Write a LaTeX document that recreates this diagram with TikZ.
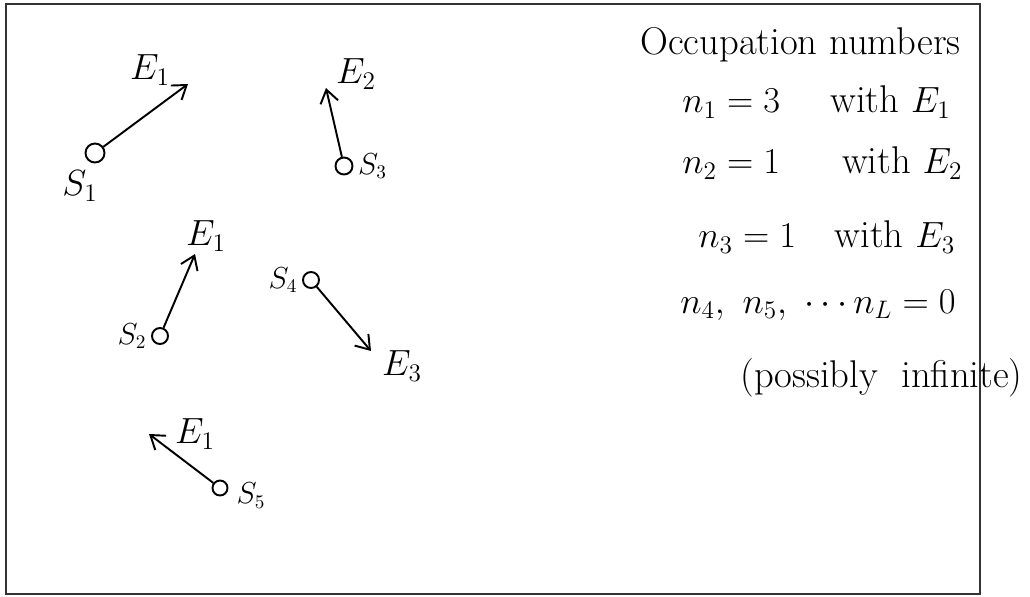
\documentclass[tikz,border=0pt]{standalone}
\usepackage{tikz}
\usetikzlibrary{positioning,arrows.meta}
\tikzset{
  site/.style={circle, draw, line width=1.1pt, inner sep=0pt, minimum size=0.38cm},
  flow/.style={-{Straight Barb[length=2.6mm,width=3.6mm]}, line width=1.1pt},
  lab/.style={font=\fontsize{20}{24}\selectfont, inner sep=1pt},
  slab/.style={font=\fontsize{16}{19}\selectfont, inner sep=1pt},
  txt/.style={font=\fontsize{22}{26}\selectfont, anchor=west, inner sep=0pt},
  frame/.style={draw=black!80, line width=0.8pt}
}
\begin{document}
\begin{tikzpicture}[x=0.02cm, y=-0.02cm]
\useasboundingbox (0,0) rectangle (1030,596);
\draw[frame] (6,4) rectangle (980,594);
% particles and their energies
\node[site] (s1) at (95,153) {};
\node[lab] (ls1) at (80,186) {$S_1$};
\coordinate (t1) at (188,84);
\node[lab] (e1) at (150,70) {$E_1$};
\draw[flow] (s1)--(t1);

\node[site, minimum size=0.34cm] (s3) at (344,166) {};
\node[slab, right=0.05cm of s3] (ls3) {$S_3$};
\coordinate (t3) at (326,88);
\node[lab] (e2) at (356,74) {$E_2$};
\draw[flow] (s3)--(t3);

\node[site, minimum size=0.32cm] (s2) at (160,336) {};
\node[slab, left=0.05cm of s2] (ls2) {$S_2$};
\coordinate (t2) at (195,254);
\node[lab] (e1b) at (206,236) {$E_1$};
\draw[flow] (s2)--(t2);

\node[site, minimum size=0.32cm] (s4) at (311,280) {};
\node[slab, left=0.05cm of s4] (ls4) {$S_4$};
\coordinate (t4) at (371,351);
\node[lab] (e3) at (402,366) {$E_3$};
\draw[flow] (s4)--(t4);

\node[site, minimum size=0.3cm] (s5) at (220,488) {};
\node[slab, right=0.12cm of s5, yshift=-0.15cm] (ls5) {$S_5$};
\coordinate (t5) at (149,434);
\node[lab] (e1c) at (195,434) {$E_1$};
\draw[flow] (s5)--(t5);

% occupation numbers
\node[txt] (occ) at (640,45) {Occupation numbers};
\node[txt] (l1) at (682,102) {$n_1 = 3$\quad\ with $E_1$};
\node[txt] (l2) at (682,163) {$n_2 = 1$\quad\ \ with $E_2$};
\node[txt] (l3) at (698,237) {$n_3 = 1$\quad with $E_3$};
\node[txt] (l4) at (680,305) {$n_4,\ n_5,\ \cdots n_L = 0$};
\node[txt] (poss) at (740,378) {(possibly\ \ infinite)};
\end{tikzpicture}
\end{document}
